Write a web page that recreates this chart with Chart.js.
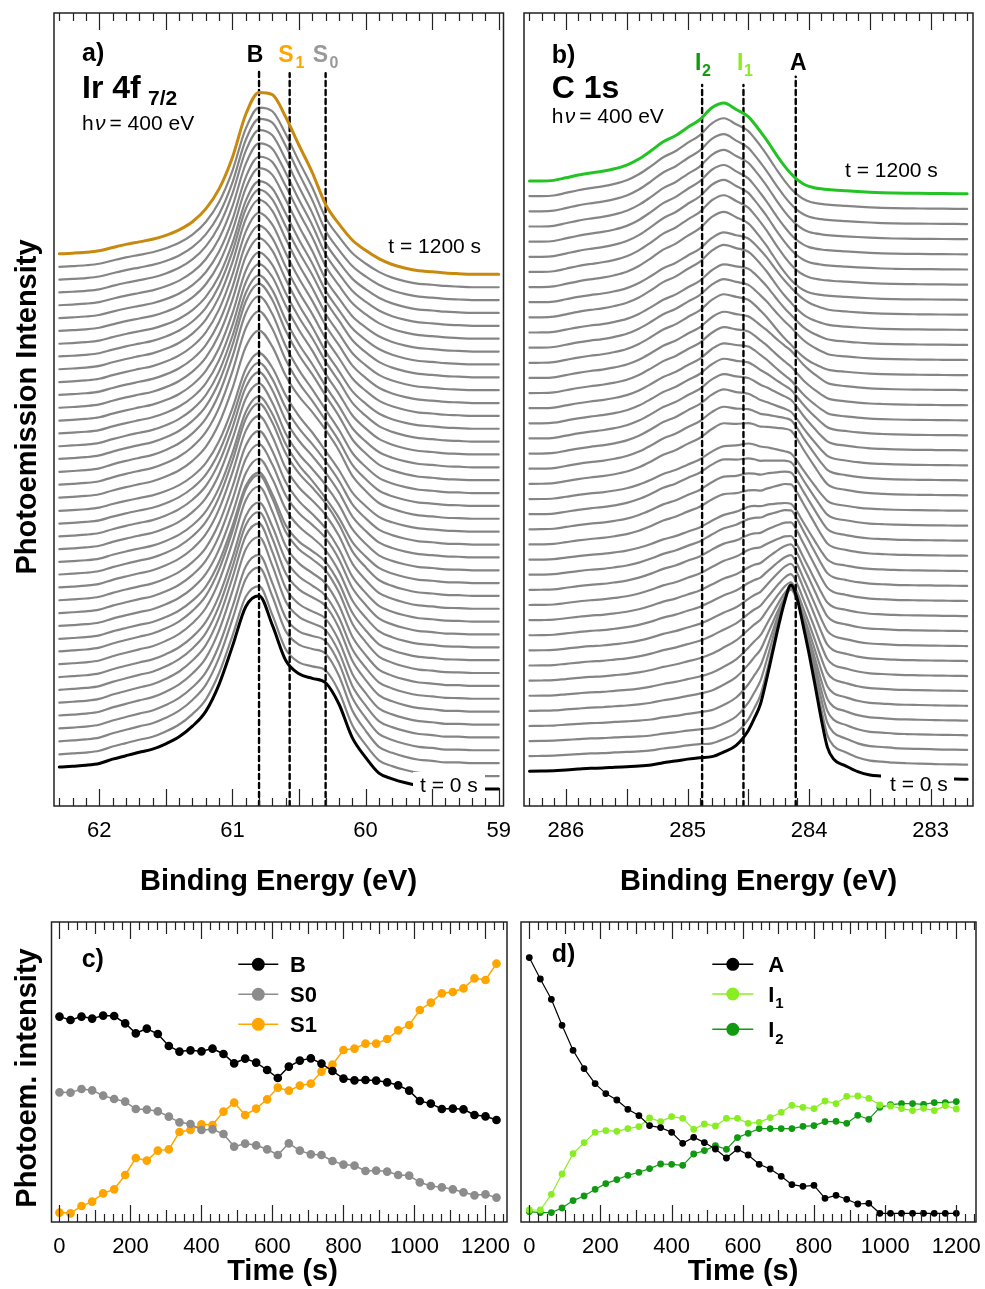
<!DOCTYPE html>
<html>
<head>
<meta charset="utf-8">
<script src="https://cdn.jsdelivr.net/npm/chart.js@4.4.0/dist/chart.umd.min.js"></script>
<style>
  html, body { margin: 0; padding: 0; background: #fff; }
  #page { position: relative; width: 985px; height: 1289px; }
  #page canvas { position: absolute; left: 0; top: 0; }
</style>
</head>
<body>
<div id="page">
  <canvas id="irSpectra" width="985" height="1289"></canvas>
  <canvas id="cSpectra" width="985" height="1289"></canvas>
  <canvas id="irTrend" width="985" height="1289"></canvas>
  <canvas id="cTrend" width="985" height="1289"></canvas>
</div>
<script>
/* ---------- Ir 4f7/2 spectra: energy grid, background and component line shapes ---------- */
const irEnergy = [62.3, 62.2, 62.1, 62.0, 61.9, 61.8, 61.7, 61.6, 61.5, 61.4, 61.3, 61.2, 61.1, 61.0, 60.9, 60.8, 60.7,
  60.6, 60.5, 60.4, 60.3, 60.2, 60.1, 60.0, 59.9, 59.8, 59.7, 59.6, 59.5, 59.4, 59.3, 59.2, 59.1, 59.0];
const irBackground = [33, 33, 33, 33, 34, 35, 35, 35, 35, 35, 35, 34, 33, 32, 31, 30, 29,
  28, 27.5, 27, 26, 25, 23, 21, 20, 19, 18, 17, 17, 16.5, 16.5, 16, 16, 16];
// line shapes, intensity per 100 units of fitted area
const irShapeB = [2.2, 2.6, 3.0, 3.8, 5.4, 6.6, 8.2, 9.6, 12.2, 15.6, 20.8, 28.6, 42.4, 61.5, 81.4, 85.8, 68.1,
  45.0, 29.4, 16.4, 8.6, 4.4, 2.6, 1.8, 1.2, 0.8, 0.6, 0.5, 0.4, 0.3, 0.3, 0.2, 0.2, 0.2];
const irShapeS0 = [1.3, 1.4, 1.5, 1.7, 1.8, 1.9, 2.1, 2.4, 2.6, 2.9, 3.2, 3.6, 4.3, 5.4, 6.6, 9.3, 14.6,
  23.9, 38.5, 56.4, 66.3, 56.4, 33.2, 19.9, 8.7, 5.4, 3.3, 2.0, 1.3, 0.6, 0.6, 0.6, 0.6, 0.6];
const irShapeS1 = [1.4, 1.5, 1.7, 2.0, 2.3, 2.7, 3.1, 3.6, 4.2, 5.1, 6.4, 9.0, 12.2, 18.0, 28.1, 35.5, 41.3,
  40.8, 34.6, 27.6, 17.5, 12.3, 8.8, 6.6, 4.6, 3.0, 2.1, 1.6, 1.3, 1.1, 0.8, 0.8, 0.8, 0.8];
const irPeakLines = [60.80, 60.57, 60.30]; // B, S1, S0

/* ---------- C 1s spectra ---------- */
const cEnergy = [286.3, 286.2, 286.1, 286.0, 285.9, 285.8, 285.7, 285.6, 285.5, 285.4, 285.3, 285.2, 285.1, 285.0,
  284.9, 284.8, 284.7, 284.6, 284.5, 284.45, 284.4, 284.35, 284.3, 284.25, 284.2, 284.15, 284.1, 284.05, 284.0,
  283.95, 283.9, 283.85, 283.8, 283.7, 283.6, 283.5, 283.4, 283.3, 283.2, 283.1, 283.0, 282.9, 282.8, 282.7];
const cBackground = [33.5, 33.5, 33.5, 34, 34.5, 35, 35, 35.5, 35.5, 35.5, 35.5, 35.5, 35, 34.5,
  34, 33, 32, 31, 30, 29.5, 29, 28.2, 27.5, 26.7, 26, 25.5, 25, 24.5, 24,
  23.5, 23, 22.7, 22.5, 22.2, 22, 22, 21.8, 21.6, 21.5, 21.4, 21.3, 21.2, 21.1, 21];
const cShapeA = [0.5, 0.6, 0.7, 0.8, 0.9, 1.0, 1.1, 1.2, 1.4, 1.6, 2.0, 2.8, 3.6, 4.5,
  5.2, 5.9, 8.1, 11.0, 17.2, 22.2, 28.0, 38.0, 49.0, 60.0, 69.8, 76.3, 71.5, 61.2, 50.0,
  37.7, 25.0, 14.1, 9.6, 7.0, 4.8, 3.5, 3.2, 2.8, 2.6, 2.5, 2.4, 2.3, 2.3, 2.2];
const cShapeI1 = [0.3, 0.3, 0.4, 0.5, 0.5, 0.6, 0.7, 0.9, 1.0, 1.2, 1.3, 1.6, 2.3, 3.3,
  4.9, 8.1, 13.7, 22.8, 31.3, 32.6, 31.3, 28.0, 22.8, 17.3, 12.4, 8.4, 5.6, 3.5, 2.3,
  1.6, 1.3, 1.0, 0.8, 0.7, 0.5, 0.3, 0.3, 0.3, 0.3, 0.3, 0.3, 0.3, 0.3, 0.3];
const cShapeI2 = [0.4, 0.4, 0.9, 2.7, 4.7, 6.0, 7.5, 9.1, 12.3, 17.5, 24.8, 32.5, 37.7, 44.7,
  50.5, 59.1, 59.1, 45.7, 32.2, 25.1, 19.7, 16.1, 13.4, 11.2, 9.0, 6.7, 4.5, 3.1, 2.2,
  2.0, 1.9, 1.8, 1.7, 1.4, 1.1, 0.7, 0.4, 0.3, 0.2, 0.2, 0.2, 0.2, 0.2, 0.2];
const cPeakLines = [284.88, 284.54, 284.11]; // I2, I1, A

/* ---------- fitted component intensities vs time ---------- */
const irTime = [0, 31, 62, 92, 123, 154, 185, 215, 246, 277, 308, 338, 369, 400, 431, 462, 492, 523, 554, 585,
  615, 646, 677, 708, 738, 769, 800, 831, 862, 892, 923, 954, 985, 1015, 1046, 1077, 1108, 1138, 1169, 1200, 1231];
const irB = [196.7, 193.3, 196.7, 194.7, 197.7, 197.3, 190.0, 180.0, 184.7, 179.3, 167.3, 161.7, 163.0, 162.0,
  164.7, 159.3, 150.0, 154.7, 150.7, 143.3, 135.3, 146.7, 152.7, 155.0, 149.7, 142.3, 134.7, 133.0, 133.3,
  132.7, 131.0, 128.0, 122.7, 112.3, 109.7, 104.3, 104.7, 104.0, 98.3, 97.0, 93.3];
const irS0 = [121.0, 120.7, 124.3, 123.0, 117.7, 114.3, 111.7, 104.3, 103.7, 102.0, 96.7, 91.0, 89.3, 83.3,
  84.0, 79.3, 66.7, 69.7, 68.0, 64.0, 58.3, 70.0, 62.7, 59.0, 58.3, 52.3, 48.7, 47.7, 42.3,
  42.7, 41.7, 38.3, 37.7, 31.0, 27.3, 26.0, 24.0, 21.0, 18.0, 19.0, 15.7];
const irS1 = [0.7, 0.0, 7.3, 11.7, 20.0, 24.0, 38.3, 55.3, 52.7, 62.7, 64.0, 81.3, 83.3, 89.0,
  88.3, 101.7, 110.7, 98.3, 104.7, 114.0, 125.7, 122.7, 127.7, 129.7, 141.7, 148.7, 163.3, 164.7, 169.7,
  169.7, 174.3, 183.0, 188.3, 203.3, 210.7, 220.0, 221.3, 225.0, 235.0, 233.3, 249.7];

const cTime = [0, 31, 62, 92, 123, 154, 185, 215, 246, 277, 308, 338, 369, 400, 431, 462, 492, 523, 554, 585,
  615, 646, 677, 708, 738, 769, 800, 831, 862, 892, 923, 954, 985, 1015, 1046, 1077, 1108, 1138, 1169, 1200];
const cA = [255.7, 234.3, 214.0, 188.0, 163.0, 144.7, 129.7, 119.7, 113.3, 104.0, 97.7, 87.7, 85.7, 81.0,
  70.0, 76.0, 70.7, 64.3, 55.3, 64.3, 58.3, 49.0, 44.3, 37.0, 28.7, 27.0, 28.0, 15.0, 18.0, 14.0,
  9.3, 10.0, 0, 0, 0, 0, 0, 0, 0, 0];
const cI1 = [3.3, 3.3, 19.0, 39.3, 59.7, 70.7, 81.0, 82.7, 82.0, 84.7, 86.7, 95.3, 91.7, 96.7,
  95.0, 84.0, 89.3, 87.3, 95.0, 95.0, 90.0, 91.0, 95.7, 101.0, 108.0, 106.0, 104.7, 112.3, 109.7, 117.0,
  117.3, 115.0, 108.3, 107.3, 104.7, 102.7, 105.0, 102.7, 107.7, 104.3];
const cI2 = [1.7, 0.7, 0.7, 5.3, 12.7, 17.3, 24.0, 29.7, 33.7, 38.0, 41.0, 44.7, 49.3, 49.0,
  48.0, 59.3, 62.7, 67.7, 64.0, 75.7, 80.0, 84.7, 84.7, 84.7, 84.7, 87.0, 87.7, 91.7, 92.0, 90.0,
  98.0, 94.0, 106.0, 108.7, 109.7, 109.7, 109.0, 110.7, 110.7, 111.7];

const irEnergyTicks = [62, 61, 60, 59];
const cEnergyTicks = [286, 285, 284, 283];
const timeTicks = [0, 200, 400, 600, 800, 1000, 1200];

/* ---------- layout ---------- */
const PAGE_W = 985, PAGE_H = 1289;
const FONT = '"Liberation Sans", Arial, Helvetica, sans-serif';
const frameA = { left: 54, top: 13, right: 503.5, bottom: 806 };
const frameB = { left: 524, top: 13, right: 973, bottom: 806 };
const frameC = { left: 51.5, top: 922, right: 507, bottom: 1222 };
const frameD = { left: 521, top: 922, right: 976, bottom: 1222 };
const zeroLevel = 1213.3; // y pixel of zero intensity in the bottom panels

const GRAY = '#858585';
const IR_TOP = '#C8890E';
const C_TOP = '#22C322';
const S1_COLOR = '#FFA500';
const S0_COLOR = '#8C8C8C';
const I1_COLOR = '#88EE22';
const I2_COLOR = '#119A11';

const irStep = 12.835;  // vertical stacking of the Ir spectra
const cStep = 15.146;   // vertical stacking of the C spectra

function pad(f) {
  return { left: f.left, top: f.top, right: PAGE_W - f.right, bottom: PAGE_H - f.bottom };
}

function put(ctx, s, x, y, size, o = {}) {
  ctx.save();
  ctx.font = (o.italic ? 'italic ' : '') + (o.bold ? 'bold ' : '') + size + 'px ' + FONT;
  ctx.fillStyle = o.color || '#000';
  ctx.textAlign = o.align || 'left';
  ctx.textBaseline = 'alphabetic';
  ctx.fillText(s, x, y);
  ctx.restore();
}

function putVertical(ctx, s, x, cy, size) {
  ctx.save();
  ctx.translate(x, cy);
  ctx.rotate(-Math.PI / 2);
  ctx.font = 'bold ' + size + 'px ' + FONT;
  ctx.fillStyle = '#000';
  ctx.textAlign = 'center';
  ctx.fillText(s, 0, 0);
  ctx.restore();
}

function hnu(ctx, x, y) {
  put(ctx, 'h', x, y, 21);
  put(ctx, 'ν', x + 13, y, 21, { italic: true });
  put(ctx, '= 400 eV', x + 27.5, y, 21);
}

// inward ticks on top and bottom edges, the frame, and the tick labels
function drawFrame(chart, ticks, labels, labelY) {
  const { ctx, chartArea: ca } = chart;
  const xs = chart.scales.x;
  ctx.save();
  ctx.strokeStyle = '#222';
  ctx.lineWidth = 1.2;
  ticks.forEach(([v, len]) => {
    const px = Math.round(xs.getPixelForValue(v)) + 0.5;
    if (px <= ca.left + 1 || px >= ca.right - 1) return;
    ctx.beginPath();
    ctx.moveTo(px, ca.bottom);
    ctx.lineTo(px, ca.bottom - len);
    ctx.moveTo(px, ca.top);
    ctx.lineTo(px, ca.top + len);
    ctx.stroke();
  });
  ctx.lineWidth = 1.5;
  ctx.strokeRect(ca.left, ca.top, ca.right - ca.left, ca.bottom - ca.top);
  ctx.restore();
  labels.forEach(v => put(ctx, String(v), xs.getPixelForValue(v), labelY, 22, { align: 'center' }));
}

function energyTickMarks(from, to) {
  const out = [];
  for (let k = from; k <= to; k++) out.push([k / 10, k % 5 === 0 ? 17 : 8]);
  return out;
}

function timeTickMarks() {
  const out = [];
  for (let t = 0; t <= 1250; t += 25) out.push([t, t % 200 === 0 ? 17 : (t % 100 === 0 ? 12 : 8)]);
  return out;
}

/* ---------- spectra: stacked sums of the fitted components ---------- */
function spectrum(energy, background, parts, offset) {
  return energy.map((e, k) => {
    let y = offset + background[k];
    parts.forEach(([amount, shape]) => { y += amount / 100 * shape[k]; });
    return { x: e, y: y };
  });
}

function stackedSets(count, energy, background, partsAt, step, topColor) {
  const sets = [];
  for (let i = 0; i < count; i++) {
    const last = i === count - 1, first = i === 0;
    sets.push({
      data: spectrum(energy, background, partsAt(i), i * step),
      borderColor: last ? topColor : (first ? '#000' : GRAY),
      borderWidth: (first || last) ? 3 : 2.2,
      order: last ? 0 : (first ? 1 : 3)
    });
  }
  return sets;
}

function peakLineSets(energies, tops) {
  return energies.map((e, i) => ({
    data: [{ x: e, y: 0 }, { x: e, y: tops[i] }],
    borderColor: '#000',
    borderWidth: 2.4,
    borderDash: [5, 4],
    cubicInterpolationMode: 'default',
    tension: 0,
    order: 2
  }));
}

function spectraOptions(frame, xmin, xmax) {
  return {
    responsive: false,
    animation: false,
    devicePixelRatio: 1,
    events: [],
    layout: { padding: pad(frame) },
    scales: {
      x: { type: 'linear', display: false, reverse: true, min: xmin, max: xmax },
      y: { type: 'linear', display: false, min: 0, max: frame.bottom - frame.top }
    },
    elements: {
      point: { radius: 0 },
      line: { cubicInterpolationMode: 'monotone', borderJoinStyle: 'round', borderCapStyle: 'round' }
    },
    plugins: { legend: { display: false }, tooltip: { enabled: false } }
  };
}

const irSets = stackedSets(irTime.length, irEnergy, irBackground,
  i => [[irB[i], irShapeB], [irS0[i], irShapeS0], [irS1[i], irShapeS1]], irStep, IR_TOP)
  .concat(peakLineSets(irPeakLines, [737.7, 732.7, 732.7]));

new Chart(document.getElementById('irSpectra'), {
  type: 'line',
  data: { datasets: irSets },
  options: spectraOptions(frameA, 58.964, 62.340),
  plugins: [{
    id: 'irDecor',
    afterDatasetsDraw(chart) {
      const ctx = chart.ctx;
      ctx.fillStyle = '#fff';
      ctx.fillRect(413, 772, 72, 28);
      put(ctx, 't = 0 s', 420, 791.7, 21);
      put(ctx, 't = 1200 s', 388.3, 253.3, 21);
      put(ctx, 'a)', 82, 61, 25, { bold: true });
      put(ctx, 'Ir 4f', 82, 98, 32, { bold: true });
      put(ctx, '7/2', 148, 105, 21, { bold: true });
      hnu(ctx, 82, 130);
      put(ctx, 'B', 255, 61.7, 23, { bold: true, align: 'center' });
      put(ctx, 'S', 278.3, 61.7, 23, { bold: true, color: S1_COLOR });
      put(ctx, '1', 295.5, 67.5, 16, { bold: true, color: S1_COLOR });
      put(ctx, 'S', 312.7, 61.7, 23, { bold: true, color: '#999' });
      put(ctx, '0', 329.5, 67.5, 16, { bold: true, color: '#999' });
    },
    afterDraw(chart) {
      drawFrame(chart, energyTickMarks(590, 623), irEnergyTicks, 837);
      put(chart.ctx, 'Binding Energy (eV)', 278.5, 890, 29, { bold: true, align: 'center' });
      putVertical(chart.ctx, 'Photoemission Intensity', 36, 407, 29);
    }
  }]
});

const cSets = stackedSets(cTime.length, cEnergy, cBackground,
  i => [[cA[i], cShapeA], [cI1[i], cShapeI1], [cI2[i], cShapeI2]], cStep, C_TOP)
  .concat(peakLineSets(cPeakLines, [721, 721, 729.3]));

new Chart(document.getElementById('cSpectra'), {
  type: 'line',
  data: { datasets: cSets },
  options: spectraOptions(frameB, 282.652, 286.345),
  plugins: [{
    id: 'cDecor',
    afterDatasetsDraw(chart) {
      const ctx = chart.ctx;
      ctx.fillStyle = '#fff';
      ctx.fillRect(881, 772, 73, 28);
      put(ctx, 't = 0 s', 890, 790.7, 21);
      put(ctx, 't = 1200 s', 845, 176.7, 21);
      put(ctx, 'b)', 551.7, 63, 25, { bold: true });
      put(ctx, 'C 1s', 551.7, 98, 32, { bold: true });
      hnu(ctx, 551.7, 123.3);
      put(ctx, 'I', 695, 70, 23, { bold: true, color: I2_COLOR });
      put(ctx, '2', 702, 75.5, 16, { bold: true, color: I2_COLOR });
      put(ctx, 'I', 737, 70, 23, { bold: true, color: I1_COLOR });
      put(ctx, '1', 744, 75.5, 16, { bold: true, color: I1_COLOR });
      put(ctx, 'A', 798.3, 70, 23, { bold: true, align: 'center' });
    },
    afterDraw(chart) {
      drawFrame(chart, energyTickMarks(2827, 2863), cEnergyTicks, 837);
      put(chart.ctx, 'Binding Energy (eV)', 758.5, 890, 29, { bold: true, align: 'center' });
    }
  }]
});

/* ---------- intensity vs time panels ---------- */
function trendSet(label, times, values, color, radius, width) {
  return {
    label: label,
    data: times.map((t, i) => ({ x: t, y: values[i] })),
    borderColor: color,
    backgroundColor: color,
    pointBackgroundColor: color,
    pointBorderColor: color,
    pointRadius: radius,
    borderWidth: width,
    tension: 0
  };
}

function trendOptions(frame, xmin, xmax) {
  return {
    responsive: false,
    animation: false,
    devicePixelRatio: 1,
    events: [],
    layout: { padding: pad(frame) },
    scales: {
      x: { type: 'linear', display: false, min: xmin, max: xmax },
      y: { type: 'linear', display: false, min: zeroLevel - frame.bottom, max: zeroLevel - frame.top }
    },
    plugins: { legend: { display: false }, tooltip: { enabled: false } }
  };
}

function drawLegend(ctx, chart, x0, x1, textX, rows) {
  rows.forEach((r, i) => {
    const ds = chart.data.datasets[i];
    const cx = (x0 + x1) / 2;
    ctx.save();
    ctx.strokeStyle = ds.borderColor;
    ctx.lineWidth = 1.5;
    ctx.beginPath();
    ctx.moveTo(x0, r.y);
    ctx.lineTo(x1, r.y);
    ctx.stroke();
    ctx.fillStyle = ds.borderColor;
    ctx.beginPath();
    ctx.arc(cx, r.y, 6.5, 0, Math.PI * 2);
    ctx.fill();
    ctx.restore();
    put(ctx, r.main, textX, r.y + 7.7, 22, { bold: true });
    if (r.sub) put(ctx, r.sub, textX + 7, r.y + 14.3, 15, { bold: true });
  });
}

new Chart(document.getElementById('irTrend'), {
  type: 'line',
  data: {
    datasets: [
      trendSet('B', irTime, irB, '#000', 3.6, 1.5),
      trendSet('S0', irTime, irS0, S0_COLOR, 3.6, 1.5),
      trendSet('S1', irTime, irS1, S1_COLOR, 3.6, 1.5)
    ]
  },
  options: trendOptions(frameC, -22.5, 1260.6),
  plugins: [{
    id: 'irTrendDecor',
    afterDraw(chart) {
      const ctx = chart.ctx;
      drawFrame(chart, timeTickMarks(), timeTicks, 1253);
      put(ctx, 'c)', 81.7, 967, 25, { bold: true });
      drawLegend(ctx, chart, 238.3, 278.3, 290, [
        { main: 'B', y: 964.3 }, { main: 'S0', y: 994.3 }, { main: 'S1', y: 1024.3 }
      ]);
      put(ctx, 'Time (s)', 282.5, 1280, 29, { bold: true, align: 'center' });
      putVertical(ctx, 'Photoem. intensity', 36, 1078, 29);
    }
  }]
});

new Chart(document.getElementById('cTrend'), {
  type: 'line',
  data: {
    datasets: [
      trendSet('A', cTime, cA, '#000', 2.8, 1.2),
      trendSet('I1', cTime, cI1, I1_COLOR, 2.8, 1.2),
      trendSet('I2', cTime, cI2, I2_COLOR, 2.8, 1.2)
    ]
  },
  options: trendOptions(frameD, -23.3, 1255.3),
  plugins: [{
    id: 'cTrendDecor',
    afterDraw(chart) {
      const ctx = chart.ctx;
      drawFrame(chart, timeTickMarks(), timeTicks, 1253);
      put(ctx, 'd)', 551.7, 962, 25, { bold: true });
      drawLegend(ctx, chart, 712.3, 753.3, 768.3, [
        { main: 'A', y: 964.3 }, { main: 'I', sub: '1', y: 994 }, { main: 'I', sub: '2', y: 1029.3 }
      ]);
      put(ctx, 'Time (s)', 743, 1280, 29, { bold: true, align: 'center' });
    }
  }]
});
</script>
</body>
</html>
